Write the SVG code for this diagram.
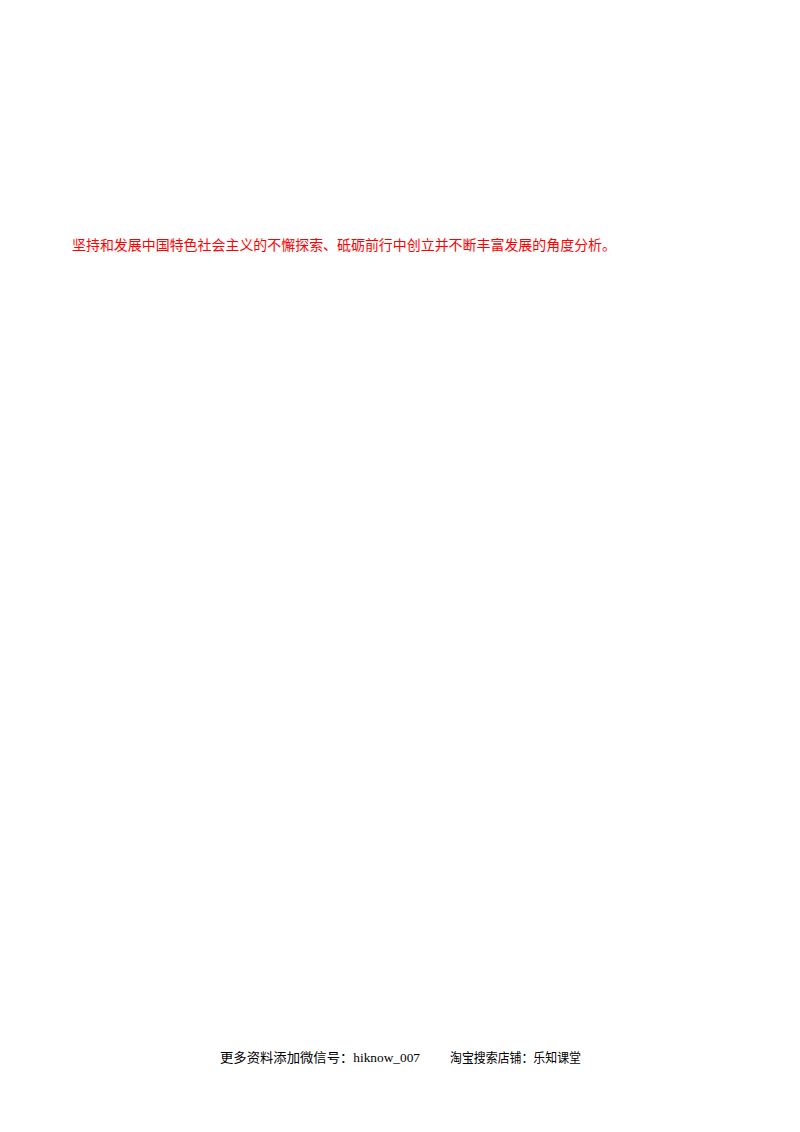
<svg xmlns="http://www.w3.org/2000/svg" width="800" height="1132" viewBox="0 0 800 1132">
<style>
.red{font-family:"Liberation Sans","Noto Sans CJK SC",sans-serif;font-size:14px;fill:#ff0000}
.foot{font-family:"Liberation Serif","Noto Sans CJK SC",serif;font-size:13px;fill:#000}
</style>
<rect width="800" height="1132" fill="#fff"/>
<text class="red" x="72" y="250" textLength="544" lengthAdjust="spacingAndGlyphs">坚持和发展中国特色社会主义的不懈探索、砥砺前行中创立并不断丰富发展的角度分析。</text>
<text class="foot" x="220" y="1062" textLength="200" lengthAdjust="spacingAndGlyphs">更多资料添加微信号：hiknow_007</text>
<text class="foot" x="450" y="1062" textLength="131" lengthAdjust="spacingAndGlyphs">淘宝搜索店铺：乐知课堂</text>
</svg>
